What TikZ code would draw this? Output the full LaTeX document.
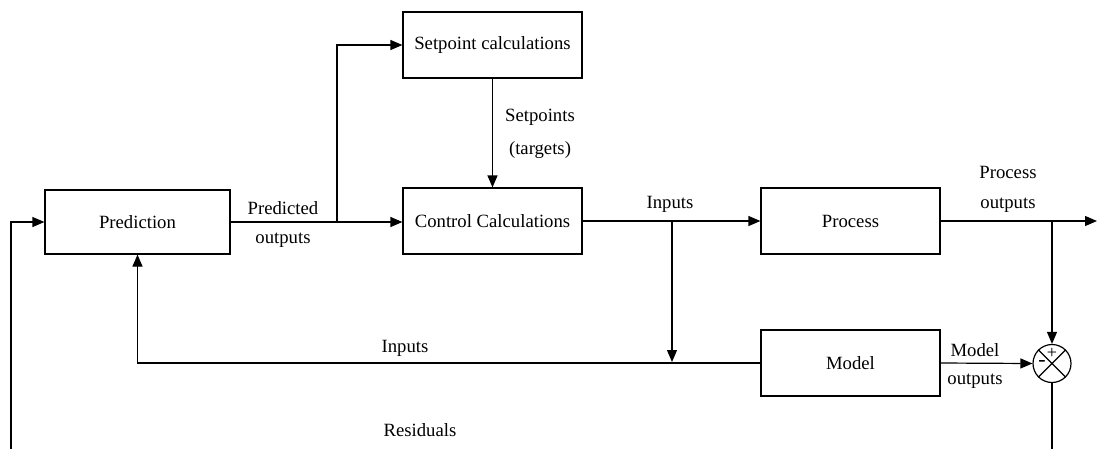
\documentclass[tikz,border=0pt]{standalone}
\usepackage{fontspec}
\setmainfont{Liberation Serif}
\newfontfamily\tnr{Liberation Serif}
\usetikzlibrary{arrows.meta,calc}
\begin{document}
\begin{tikzpicture}[x=1pt,y=-1pt,
  txt/.style={font=\tnr\fontsize{18.7}{22}\selectfont},
  blk/.style={draw,line width=1.2pt,minimum width=179pt,minimum height=66pt,inner sep=0pt,txt},
  lbl/.style={inner sep=0pt,txt},
  wire/.style={line width=1.2pt},
  arr/.style={wire,-{Triangle[length=12pt,width=10pt]}}]
\clip (0,0) rectangle (1097,448);
% blocks
\node[blk,minimum width=185pt,minimum height=64pt] (pred) at (137.5,222) {Prediction};
\node[blk] (setp) at (492.5,45) {Setpoint calculations};
\node[blk] (ctrl) at (492.5,221) {Control Calculations};
\node[blk] (proc) at (850.5,221) {Process};
\node[blk] (model) at (850.5,363) {Model};
% summing junction
\node[draw,circle,line width=1.2pt,minimum size=38pt,inner sep=0pt] (sum) at (1052,363.5) {};
\draw[wire] (sum.north west) -- (sum.south east) (sum.north east) -- (sum.south west);
\node[inner sep=0pt,font=\tnr\fontsize{18}{18}\selectfont] (plus) at (1052,353) {+};
\node[inner sep=0pt,font=\tnr\fontsize{22}{22}\selectfont] (minus) at (1042,363) {-};
% junction points
\coordinate (jpred) at (337,222);
\coordinate (jin) at (672,221);
\coordinate (jproc) at (1052,221);
\coordinate (pout) at (1097,221);
\coordinate (jin2) at (672,363);
% connectors
\draw[wire] (pred.east) -- (jpred);
\draw[arr] (jpred) -- (ctrl.west |- jpred);
\draw[arr] (jpred) |- (setp.west);
\draw[arr] (setp.south) -- (ctrl.north);
\draw[wire] (ctrl.east) -- (jin);
\draw[arr] (jin) -- (proc.west);
\draw[arr] (jin) -- ($(jin2)+(0,-1)$);
\draw[arr] (model.west) -| (pred.south);
\draw[wire] (proc.east) -- (jproc);
\draw[arr] (jproc) -- (pout);
\draw[arr] (jproc) -- (sum.north);
\draw[arr] (model.east) -- (sum.west);
\draw[arr] (sum.south) -- (1052,470) -- (11,470) |- (pred.west);
% labels
\node[lbl] (tpred1) at (283,208) {Predicted};
\node[lbl] (tpred2) at (283,240) {outputs};
\node[lbl] (tsp1) at (540,117) {Setpoints};
\node[lbl] (tsp2) at (540,150) {(targets)};
\node[lbl] (tin1) at (670,204) {Inputs};
\node[lbl] (tpo1) at (1008,172) {Process};
\node[lbl] (tpo2) at (1008,205) {outputs};
\node[lbl] (tmo1) at (975,350) {Model};
\node[lbl] (tmo2) at (975,381) {outputs};
\node[lbl] (tin2) at (405,348) {Inputs};
\node[lbl] (tres) at (420,430) {Residuals};
\end{tikzpicture}
\end{document}
